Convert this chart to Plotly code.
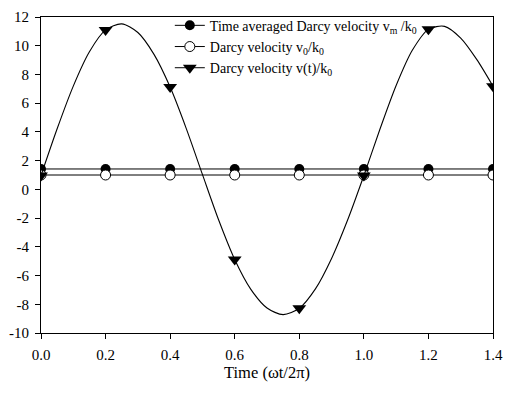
import plotly.graph_objects as go

# marker positions
t = [0.0, 0.2, 0.4, 0.6, 0.8, 1.0, 1.2, 1.4]
v_mean = [1.42, 1.42, 1.42, 1.42, 1.42, 1.42, 1.42, 1.42]
v_0 = [1.0, 1.0, 1.0, 1.0, 1.0, 1.0, 1.0, 1.0]
v_t = [0.96, 11.1, 7.12, -4.88, -8.28, 0.96, 11.14, 7.18]

# smooth curve through v(t)
t_curve = [0.0, 0.05, 0.1, 0.15, 0.2, 0.25, 0.3, 0.35, 0.4, 0.45, 0.5, 0.55, 0.6,
           0.65, 0.7, 0.75, 0.8, 0.85, 0.9, 0.95, 1.0, 1.05, 1.1, 1.15, 1.2,
           1.25, 1.3, 1.35, 1.4]
v_curve = [0.96, 4.22, 7.19, 9.58, 11.1, 11.52, 10.92, 9.40, 7.12, 4.23, 1.04, -2.12, -4.88,
           -6.96, -8.26, -8.72, -8.28, -6.93, -4.81, -2.12, 0.96, 4.20, 7.23, 9.68, 11.14,
           11.35, 10.53, 9.03, 7.18]

x_ticks = [0, 0.2, 0.4, 0.6, 0.8, 1.0, 1.2, 1.4]
x_ticklabels = ["0.0", "0.2", "0.4", "0.6", "0.8", "1.0", "1.2", "1.4"]
y_ticks = [-10, -8, -6, -4, -2, 0, 2, 4, 6, 8, 10, 12]
y_ticklabels = ["-10", "-8", "-6", "-4", "-2", "0", "2", "4", "6", "8", "10", "12"]

FONT = "Liberation Serif"

fig = go.Figure()
fig.add_trace(go.Scatter(
    x=t, y=v_mean, mode="lines+markers",
    name="Time averaged Darcy velocity v<sub>m</sub> /k<sub>0</sub>",
    line=dict(color="black", width=1),
    marker=dict(symbol="circle", size=10, color="black"),
))
fig.add_trace(go.Scatter(
    x=t, y=v_0, mode="lines+markers",
    name="Darcy velocity v<sub>0</sub>/k<sub>0</sub>",
    line=dict(color="black", width=1),
    marker=dict(symbol="circle", size=10, color="white", line=dict(color="black", width=1)),
))
fig.add_trace(go.Scatter(
    x=t_curve, y=v_curve, mode="lines", showlegend=False,
    line=dict(color="black", width=1.1, shape="spline", smoothing=0.8),
))
fig.add_trace(go.Scatter(
    x=t, y=v_t, mode="markers", showlegend=False,
    marker=dict(symbol="triangle-down", size=12, color="black"),
))
fig.add_trace(go.Scatter(
    x=[None], y=[None], mode="lines+markers",
    name="Darcy velocity v(t)/k<sub>0</sub>",
    line=dict(color="black", width=1),
    marker=dict(symbol="triangle-down", size=12, color="black"),
))

fig.update_layout(
    width=512, height=393,
    margin=dict(l=38, r=10, t=9, b=60),
    paper_bgcolor="white", plot_bgcolor="white",
    font=dict(family=FONT, size=15, color="black"),
    showlegend=True,
    legend=dict(
        x=0.285, y=1.023, xanchor="left", yanchor="top",
        bgcolor="rgba(0,0,0,0)", font=dict(family=FONT, size=14, color="black"),
        itemwidth=30,
    ),
    xaxis=dict(
        range=[0, 1.4], tickvals=x_ticks, ticktext=x_ticklabels,
        showgrid=False, zeroline=False, showline=True, linecolor="black", linewidth=1,
        mirror=True, ticks="outside", ticklen=5, tickcolor="black",
        tickfont=dict(family=FONT, size=15), ticklabelstandoff=3,
        title=dict(text="Time (ωt/2π)", font=dict(family=FONT, size=16.5), standoff=4),
    ),
    yaxis=dict(
        range=[-10, 12], tickvals=y_ticks, ticktext=y_ticklabels,
        showgrid=False, zeroline=False, showline=True, linecolor="black", linewidth=1,
        mirror=True, ticks="outside", ticklen=5, tickcolor="black",
        tickfont=dict(family=FONT, size=15), ticklabelstandoff=3,
    ),
)

fig.write_html("out.html")
